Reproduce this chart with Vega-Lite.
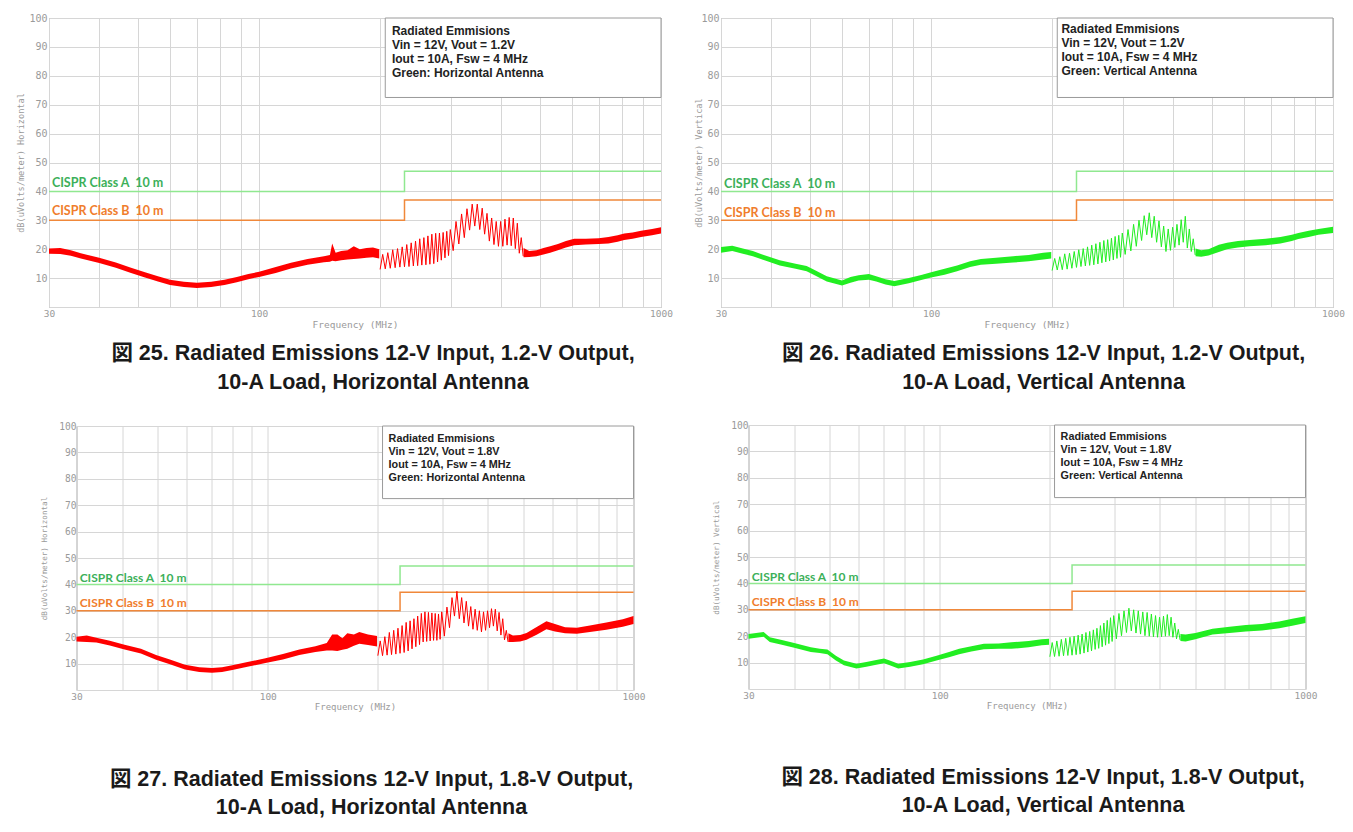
{
"$schema": "https://vega.github.io/schema/vega-lite/v6.json",
"background": "white",
"padding": {"left": 15, "top": 12, "right": 2, "bottom": 0},
"spacing": 21,
"config": {
  "view": {"stroke": "#a8a8a8", "strokeWidth": 1},
  "axis": {"grid": true, "gridColor": "#d6d6d6", "gridWidth": 1, "ticks": false, "tickSize": 0, "domain": false,
    "labelFont": "DejaVu Sans Mono", "labelFontSize": 10, "labelColor": "#9a9a9a", "labelPadding": 2,
    "titleFont": "DejaVu Sans Mono", "titleFontSize": 9, "titleFontWeight": "normal", "titleColor": "#9a9a9a",
    "labelFlush": false, "labelOverlap": false},
  "title": {"font": "Liberation Sans, Noto Sans CJK JP", "fontSize": 21.5, "fontWeight": "bold", "color": "#1a1a1a", "lineHeight": 28.5}
},
"datasets": {
  "lim": [
    {"c": "A", "f": 30, "v": 40}, {"c": "A", "f": 230, "v": 47}, {"c": "A", "f": 1000, "v": 47},
    {"c": "B", "f": 30, "v": 30}, {"c": "B", "f": 230, "v": 37}, {"c": "B", "f": 1000, "v": 37}
  ],
  "band": [
    {"p":1,"s":1,"f":30,"lo":18.4,"hi":20.2},{"p":1,"s":1,"f":32,"lo":18.3,"hi":20.4},{"p":1,"s":1,"f":34,"lo":17.7,"hi":19.6},{"p":1,"s":1,"f":36,"lo":16.8,"hi":18.6},{"p":1,"s":1,"f":40,"lo":15.2,"hi":17.0},{"p":1,"s":1,"f":44,"lo":13.6,"hi":15.4},{"p":1,"s":1,"f":48,"lo":11.8,"hi":13.6},{"p":1,"s":1,"f":52,"lo":10.2,"hi":12.0},{"p":1,"s":1,"f":56,"lo":8.8,"hi":10.6},{"p":1,"s":1,"f":60,"lo":7.6,"hi":9.4},{"p":1,"s":1,"f":65,"lo":6.9,"hi":8.7},{"p":1,"s":1,"f":70,"lo":6.6,"hi":8.4},{"p":1,"s":1,"f":76,"lo":6.9,"hi":8.7},{"p":1,"s":1,"f":82,"lo":7.6,"hi":9.4},{"p":1,"s":1,"f":88,"lo":8.6,"hi":10.4},{"p":1,"s":1,"f":94,"lo":9.6,"hi":11.4},{"p":1,"s":1,"f":100,"lo":10.4,"hi":12.2},{"p":1,"s":1,"f":110,"lo":11.8,"hi":13.8},{"p":1,"s":1,"f":120,"lo":13.3,"hi":15.3},{"p":1,"s":1,"f":132,"lo":14.6,"hi":16.6},{"p":1,"s":1,"f":145,"lo":15.5,"hi":17.6},{"p":1,"s":1,"f":150,"lo":15.7,"hi":18.0},{"p":1,"s":1,"f":152,"lo":16.0,"hi":22.0},{"p":1,"s":1,"f":155,"lo":15.8,"hi":18.8},{"p":1,"s":1,"f":160,"lo":16.2,"hi":19.4},{"p":1,"s":1,"f":166,"lo":16.4,"hi":19.6},{"p":1,"s":1,"f":172,"lo":16.6,"hi":21.0},{"p":1,"s":1,"f":178,"lo":16.8,"hi":20.0},{"p":1,"s":1,"f":185,"lo":17.0,"hi":20.4},{"p":1,"s":1,"f":192,"lo":17.2,"hi":20.6},{"p":1,"s":1,"f":199,"lo":16.8,"hi":20.0},
    {"p":1,"s":2,"f":455,"lo":17.2,"hi":20.4},{"p":1,"s":2,"f":470,"lo":17.3,"hi":19.4},{"p":1,"s":2,"f":490,"lo":17.6,"hi":19.6},{"p":1,"s":2,"f":510,"lo":18.2,"hi":20.4},{"p":1,"s":2,"f":530,"lo":18.8,"hi":21.0},{"p":1,"s":2,"f":554,"lo":19.6,"hi":21.8},{"p":1,"s":2,"f":580,"lo":20.6,"hi":22.8},{"p":1,"s":2,"f":608,"lo":21.4,"hi":23.6},{"p":1,"s":2,"f":650,"lo":21.6,"hi":23.6},{"p":1,"s":2,"f":700,"lo":21.8,"hi":23.8},{"p":1,"s":2,"f":740,"lo":22.0,"hi":24.2},{"p":1,"s":2,"f":780,"lo":22.6,"hi":24.8},{"p":1,"s":2,"f":810,"lo":23.2,"hi":25.4},{"p":1,"s":2,"f":850,"lo":23.6,"hi":25.8},{"p":1,"s":2,"f":892,"lo":24.2,"hi":26.4},{"p":1,"s":2,"f":950,"lo":24.8,"hi":27.0},{"p":1,"s":2,"f":1000,"lo":25.4,"hi":27.6},
    {"p":2,"s":1,"f":30,"lo":18.8,"hi":20.8},{"p":2,"s":1,"f":32,"lo":19.4,"hi":21.2},{"p":2,"s":1,"f":34,"lo":18.4,"hi":20.2},{"p":2,"s":1,"f":36,"lo":17.6,"hi":19.4},{"p":2,"s":1,"f":38,"lo":16.4,"hi":18.2},{"p":2,"s":1,"f":42,"lo":14.4,"hi":16.2},{"p":2,"s":1,"f":46,"lo":13.2,"hi":15.0},{"p":2,"s":1,"f":49,"lo":12.4,"hi":14.2},{"p":2,"s":1,"f":51,"lo":11.2,"hi":13.0},{"p":2,"s":1,"f":55,"lo":8.8,"hi":10.6},{"p":2,"s":1,"f":60,"lo":7.4,"hi":9.2},{"p":2,"s":1,"f":63,"lo":8.4,"hi":10.4},{"p":2,"s":1,"f":66,"lo":9.2,"hi":11.0},{"p":2,"s":1,"f":70,"lo":9.4,"hi":11.4},{"p":2,"s":1,"f":73,"lo":8.8,"hi":10.6},{"p":2,"s":1,"f":77,"lo":7.8,"hi":9.6},{"p":2,"s":1,"f":81,"lo":7.2,"hi":9.0},{"p":2,"s":1,"f":88,"lo":8.2,"hi":10.0},{"p":2,"s":1,"f":95,"lo":9.4,"hi":11.2},{"p":2,"s":1,"f":100,"lo":10.2,"hi":12.0},{"p":2,"s":1,"f":108,"lo":11.2,"hi":13.2},{"p":2,"s":1,"f":116,"lo":12.4,"hi":14.4},{"p":2,"s":1,"f":125,"lo":13.8,"hi":15.8},{"p":2,"s":1,"f":133,"lo":14.6,"hi":16.6},{"p":2,"s":1,"f":145,"lo":15.0,"hi":17.0},{"p":2,"s":1,"f":160,"lo":15.4,"hi":17.6},{"p":2,"s":1,"f":175,"lo":15.8,"hi":18.0},{"p":2,"s":1,"f":190,"lo":16.4,"hi":18.8},{"p":2,"s":1,"f":199,"lo":16.8,"hi":19.0},
    {"p":2,"s":2,"f":455,"lo":17.6,"hi":20.2},{"p":2,"s":2,"f":470,"lo":17.4,"hi":19.6},{"p":2,"s":2,"f":490,"lo":17.8,"hi":20.0},{"p":2,"s":2,"f":520,"lo":19.0,"hi":21.5},{"p":2,"s":2,"f":545,"lo":20.0,"hi":22.2},{"p":2,"s":2,"f":580,"lo":20.6,"hi":22.8},{"p":2,"s":2,"f":620,"lo":21.0,"hi":23.2},{"p":2,"s":2,"f":680,"lo":21.4,"hi":23.6},{"p":2,"s":2,"f":740,"lo":22.0,"hi":24.2},{"p":2,"s":2,"f":790,"lo":22.8,"hi":25.0},{"p":2,"s":2,"f":820,"lo":23.5,"hi":25.6},{"p":2,"s":2,"f":870,"lo":24.2,"hi":26.4},{"p":2,"s":2,"f":920,"lo":25.0,"hi":27.0},{"p":2,"s":2,"f":1000,"lo":25.6,"hi":27.8},
    {"p":3,"s":1,"f":30,"lo":18.4,"hi":20.2},{"p":3,"s":1,"f":32,"lo":18.2,"hi":20.6},{"p":3,"s":1,"f":34,"lo":18.0,"hi":19.8},{"p":3,"s":1,"f":37,"lo":16.9,"hi":18.7},{"p":3,"s":1,"f":40.6,"lo":15.3,"hi":17.1},{"p":3,"s":1,"f":45,"lo":13.8,"hi":15.6},{"p":3,"s":1,"f":49.5,"lo":11.5,"hi":13.3},{"p":3,"s":1,"f":54,"lo":9.8,"hi":11.6},{"p":3,"s":1,"f":59.4,"lo":7.8,"hi":9.6},{"p":3,"s":1,"f":65,"lo":6.8,"hi":8.6},{"p":3,"s":1,"f":70.4,"lo":6.5,"hi":8.3},{"p":3,"s":1,"f":75,"lo":6.8,"hi":8.6},{"p":3,"s":1,"f":80,"lo":7.6,"hi":9.4},{"p":3,"s":1,"f":88,"lo":8.8,"hi":10.6},{"p":3,"s":1,"f":98.6,"lo":10.2,"hi":12.0},{"p":3,"s":1,"f":110,"lo":11.6,"hi":13.6},{"p":3,"s":1,"f":122,"lo":13.3,"hi":15.3},{"p":3,"s":1,"f":135,"lo":14.4,"hi":16.6},{"p":3,"s":1,"f":145,"lo":15.0,"hi":17.8},{"p":3,"s":1,"f":150,"lo":15.0,"hi":21.0},{"p":3,"s":1,"f":155,"lo":14.8,"hi":21.0},{"p":3,"s":1,"f":160,"lo":15.2,"hi":19.6},{"p":3,"s":1,"f":165,"lo":15.6,"hi":21.5},{"p":3,"s":1,"f":172,"lo":16.8,"hi":21.0},{"p":3,"s":1,"f":178,"lo":17.5,"hi":22.0},{"p":3,"s":1,"f":188,"lo":17.0,"hi":21.0},{"p":3,"s":1,"f":199,"lo":16.5,"hi":20.5},
    {"p":3,"s":2,"f":455,"lo":18.2,"hi":21.5},{"p":3,"s":2,"f":468,"lo":18.2,"hi":20.6},{"p":3,"s":2,"f":490,"lo":18.4,"hi":20.8},{"p":3,"s":2,"f":510,"lo":19.0,"hi":21.6},{"p":3,"s":2,"f":545,"lo":21.0,"hi":24.0},{"p":3,"s":2,"f":578,"lo":23.0,"hi":26.0},{"p":3,"s":2,"f":610,"lo":22.2,"hi":25.0},{"p":3,"s":2,"f":650,"lo":21.5,"hi":23.8},{"p":3,"s":2,"f":700,"lo":21.3,"hi":23.6},{"p":3,"s":2,"f":760,"lo":22.0,"hi":24.4},{"p":3,"s":2,"f":843,"lo":22.8,"hi":25.6},{"p":3,"s":2,"f":935,"lo":24.0,"hi":26.8},{"p":3,"s":2,"f":1000,"lo":25.0,"hi":28.0},
    {"p":4,"s":1,"f":30,"lo":19.0,"hi":20.8},{"p":4,"s":1,"f":33,"lo":19.8,"hi":21.6},{"p":4,"s":1,"f":34.3,"lo":17.8,"hi":19.6},{"p":4,"s":1,"f":37,"lo":16.8,"hi":18.6},{"p":4,"s":1,"f":40,"lo":15.6,"hi":17.4},{"p":4,"s":1,"f":44.4,"lo":14.0,"hi":15.8},{"p":4,"s":1,"f":47,"lo":13.6,"hi":15.2},{"p":4,"s":1,"f":49.3,"lo":13.2,"hi":15.0},{"p":4,"s":1,"f":52,"lo":10.8,"hi":12.6},{"p":4,"s":1,"f":54.7,"lo":9.0,"hi":10.8},{"p":4,"s":1,"f":59.2,"lo":7.8,"hi":9.6},{"p":4,"s":1,"f":63,"lo":8.4,"hi":10.2},{"p":4,"s":1,"f":66,"lo":9.0,"hi":10.8},{"p":4,"s":1,"f":70.4,"lo":9.8,"hi":11.6},{"p":4,"s":1,"f":73,"lo":9.0,"hi":10.8},{"p":4,"s":1,"f":77,"lo":7.8,"hi":9.6},{"p":4,"s":1,"f":83,"lo":8.4,"hi":10.2},{"p":4,"s":1,"f":90,"lo":9.4,"hi":11.2},{"p":4,"s":1,"f":98,"lo":10.8,"hi":12.6},{"p":4,"s":1,"f":106,"lo":12.0,"hi":14.0},{"p":4,"s":1,"f":113,"lo":13.2,"hi":15.2},{"p":4,"s":1,"f":122,"lo":14.2,"hi":16.2},{"p":4,"s":1,"f":132,"lo":15.1,"hi":17.1},{"p":4,"s":1,"f":145,"lo":15.2,"hi":17.2},{"p":4,"s":1,"f":157,"lo":15.2,"hi":17.7},{"p":4,"s":1,"f":175,"lo":15.8,"hi":18.2},{"p":4,"s":1,"f":190,"lo":16.6,"hi":18.8},{"p":4,"s":1,"f":199,"lo":16.8,"hi":19.0},
    {"p":4,"s":2,"f":455,"lo":18.2,"hi":20.8},{"p":4,"s":2,"f":470,"lo":18.0,"hi":20.6},{"p":4,"s":2,"f":500,"lo":18.8,"hi":21.2},{"p":4,"s":2,"f":557,"lo":20.6,"hi":22.8},{"p":4,"s":2,"f":620,"lo":21.2,"hi":23.6},{"p":4,"s":2,"f":687,"lo":21.8,"hi":24.2},{"p":4,"s":2,"f":760,"lo":22.2,"hi":24.6},{"p":4,"s":2,"f":848,"lo":23.0,"hi":25.6},{"p":4,"s":2,"f":920,"lo":24.0,"hi":26.6},{"p":4,"s":2,"f":1000,"lo":25.0,"hi":27.6}
  ],
  "zig": [
    {"p":1,"f":200,"v":13.0},{"p":1,"f":203,"v":18.2},{"p":1,"f":206,"v":13.2},{"p":1,"f":209,"v":18.8},{"p":1,"f":212,"v":13.4},{"p":1,"f":215,"v":19.8},{"p":1,"f":218,"v":13.6},{"p":1,"f":221,"v":20.2},{"p":1,"f":224,"v":13.8},{"p":1,"f":227,"v":20.8},{"p":1,"f":230,"v":13.9},{"p":1,"f":233,"v":21.6},{"p":1,"f":236,"v":14.0},{"p":1,"f":239,"v":22.2},{"p":1,"f":242,"v":14.2},{"p":1,"f":245,"v":22.8},{"p":1,"f":248,"v":14.3},{"p":1,"f":251,"v":23.6},{"p":1,"f":254,"v":14.5},{"p":1,"f":257,"v":24.0},{"p":1,"f":260,"v":14.6},{"p":1,"f":263,"v":24.6},{"p":1,"f":266,"v":14.8},{"p":1,"f":269,"v":25.2},{"p":1,"f":272,"v":15.0},{"p":1,"f":275,"v":25.5},{"p":1,"f":278,"v":15.6},{"p":1,"f":281,"v":25.6},{"p":1,"f":284,"v":16.2},{"p":1,"f":287,"v":25.8},{"p":1,"f":290,"v":17.0},{"p":1,"f":293,"v":26.2},{"p":1,"f":296,"v":17.8},{"p":1,"f":299,"v":26.8},{"p":1,"f":304,"v":19.5},{"p":1,"f":309,"v":29.6},{"p":1,"f":314,"v":21.8},{"p":1,"f":319,"v":32.2},{"p":1,"f":324,"v":24.0},{"p":1,"f":329,"v":34.0},{"p":1,"f":334,"v":26.6},{"p":1,"f":339,"v":35.6},{"p":1,"f":344,"v":28.0},{"p":1,"f":349,"v":35.6},{"p":1,"f":354,"v":26.8},{"p":1,"f":359,"v":34.2},{"p":1,"f":364,"v":25.2},{"p":1,"f":369,"v":32.4},{"p":1,"f":374,"v":22.8},{"p":1,"f":379,"v":30.8},{"p":1,"f":384,"v":21.6},{"p":1,"f":389,"v":29.6},{"p":1,"f":394,"v":21.0},{"p":1,"f":399,"v":29.6},{"p":1,"f":404,"v":21.0},{"p":1,"f":409,"v":30.4},{"p":1,"f":414,"v":21.4},{"p":1,"f":419,"v":31.0},{"p":1,"f":424,"v":21.2},{"p":1,"f":429,"v":30.8},{"p":1,"f":434,"v":20.2},{"p":1,"f":439,"v":29.0},{"p":1,"f":444,"v":18.6},{"p":1,"f":449,"v":24.0},{"p":1,"f":454,"v":17.6},
    {"p":2,"f":200,"v":12.6},{"p":2,"f":203,"v":16.8},{"p":2,"f":206,"v":12.8},{"p":2,"f":209,"v":17.4},{"p":2,"f":212,"v":12.9},{"p":2,"f":215,"v":18.4},{"p":2,"f":218,"v":13.1},{"p":2,"f":221,"v":18.6},{"p":2,"f":224,"v":13.4},{"p":2,"f":227,"v":19.2},{"p":2,"f":230,"v":13.7},{"p":2,"f":233,"v":19.8},{"p":2,"f":236,"v":14.0},{"p":2,"f":239,"v":20.2},{"p":2,"f":242,"v":14.2},{"p":2,"f":245,"v":20.8},{"p":2,"f":248,"v":14.4},{"p":2,"f":251,"v":21.4},{"p":2,"f":254,"v":14.6},{"p":2,"f":257,"v":21.9},{"p":2,"f":260,"v":14.9},{"p":2,"f":263,"v":22.4},{"p":2,"f":266,"v":15.3},{"p":2,"f":269,"v":23.0},{"p":2,"f":272,"v":15.6},{"p":2,"f":275,"v":23.3},{"p":2,"f":278,"v":15.9},{"p":2,"f":281,"v":23.8},{"p":2,"f":284,"v":16.3},{"p":2,"f":287,"v":24.4},{"p":2,"f":290,"v":16.8},{"p":2,"f":293,"v":24.8},{"p":2,"f":296,"v":17.2},{"p":2,"f":299,"v":25.6},{"p":2,"f":304,"v":18.2},{"p":2,"f":309,"v":26.8},{"p":2,"f":314,"v":19.4},{"p":2,"f":319,"v":28.6},{"p":2,"f":324,"v":21.0},{"p":2,"f":329,"v":30.0},{"p":2,"f":334,"v":23.0},{"p":2,"f":339,"v":31.6},{"p":2,"f":344,"v":25.0},{"p":2,"f":349,"v":32.6},{"p":2,"f":354,"v":24.0},{"p":2,"f":359,"v":31.4},{"p":2,"f":364,"v":22.4},{"p":2,"f":369,"v":29.8},{"p":2,"f":374,"v":20.8},{"p":2,"f":379,"v":28.0},{"p":2,"f":384,"v":19.2},{"p":2,"f":389,"v":27.0},{"p":2,"f":394,"v":19.6},{"p":2,"f":399,"v":27.6},{"p":2,"f":404,"v":20.6},{"p":2,"f":409,"v":28.6},{"p":2,"f":414,"v":21.4},{"p":2,"f":419,"v":30.2},{"p":2,"f":424,"v":22.4},{"p":2,"f":429,"v":31.4},{"p":2,"f":434,"v":20.4},{"p":2,"f":439,"v":27.0},{"p":2,"f":444,"v":19.2},{"p":2,"f":449,"v":23.6},{"p":2,"f":454,"v":18.0},
    {"p":3,"f":200,"v":13.0},{"p":3,"f":203,"v":18.6},{"p":3,"f":206,"v":13.0},{"p":3,"f":209,"v":20.2},{"p":3,"f":212,"v":13.2},{"p":3,"f":215,"v":21.8},{"p":3,"f":218,"v":13.4},{"p":3,"f":221,"v":22.6},{"p":3,"f":224,"v":13.6},{"p":3,"f":227,"v":23.4},{"p":3,"f":230,"v":13.9},{"p":3,"f":233,"v":24.4},{"p":3,"f":236,"v":14.2},{"p":3,"f":239,"v":25.6},{"p":3,"f":242,"v":14.8},{"p":3,"f":245,"v":26.2},{"p":3,"f":248,"v":15.6},{"p":3,"f":251,"v":27.0},{"p":3,"f":254,"v":16.4},{"p":3,"f":257,"v":28.0},{"p":3,"f":260,"v":17.2},{"p":3,"f":263,"v":29.0},{"p":3,"f":266,"v":18.2},{"p":3,"f":269,"v":29.6},{"p":3,"f":272,"v":18.4},{"p":3,"f":275,"v":29.4},{"p":3,"f":278,"v":18.6},{"p":3,"f":281,"v":29.2},{"p":3,"f":284,"v":18.8},{"p":3,"f":287,"v":29.0},{"p":3,"f":290,"v":18.8},{"p":3,"f":293,"v":28.8},{"p":3,"f":296,"v":19.2},{"p":3,"f":299,"v":29.6},{"p":3,"f":304,"v":20.4},{"p":3,"f":309,"v":31.4},{"p":3,"f":314,"v":23.6},{"p":3,"f":319,"v":35.0},{"p":3,"f":324,"v":28.0},{"p":3,"f":329,"v":37.4},{"p":3,"f":334,"v":27.0},{"p":3,"f":339,"v":35.0},{"p":3,"f":344,"v":25.4},{"p":3,"f":349,"v":33.6},{"p":3,"f":354,"v":24.2},{"p":3,"f":359,"v":31.6},{"p":3,"f":364,"v":23.0},{"p":3,"f":369,"v":30.6},{"p":3,"f":374,"v":22.6},{"p":3,"f":379,"v":30.0},{"p":3,"f":384,"v":22.0},{"p":3,"f":389,"v":29.6},{"p":3,"f":394,"v":22.6},{"p":3,"f":399,"v":30.0},{"p":3,"f":404,"v":23.6},{"p":3,"f":409,"v":30.8},{"p":3,"f":414,"v":24.2},{"p":3,"f":419,"v":30.6},{"p":3,"f":424,"v":22.4},{"p":3,"f":429,"v":29.4},{"p":3,"f":434,"v":20.8},{"p":3,"f":439,"v":27.0},{"p":3,"f":444,"v":19.0},{"p":3,"f":449,"v":22.6},{"p":3,"f":454,"v":18.2},
    {"p":4,"f":200,"v":12.2},{"p":4,"f":203,"v":17.6},{"p":4,"f":206,"v":12.3},{"p":4,"f":209,"v":18.2},{"p":4,"f":212,"v":12.4},{"p":4,"f":215,"v":18.8},{"p":4,"f":218,"v":12.6},{"p":4,"f":221,"v":19.2},{"p":4,"f":224,"v":12.7},{"p":4,"f":227,"v":19.6},{"p":4,"f":230,"v":12.8},{"p":4,"f":233,"v":20.0},{"p":4,"f":236,"v":13.0},{"p":4,"f":239,"v":20.4},{"p":4,"f":242,"v":13.2},{"p":4,"f":245,"v":20.8},{"p":4,"f":248,"v":13.6},{"p":4,"f":251,"v":21.4},{"p":4,"f":254,"v":14.0},{"p":4,"f":257,"v":21.8},{"p":4,"f":260,"v":14.4},{"p":4,"f":263,"v":22.4},{"p":4,"f":266,"v":15.0},{"p":4,"f":269,"v":23.0},{"p":4,"f":272,"v":15.4},{"p":4,"f":275,"v":24.0},{"p":4,"f":278,"v":16.0},{"p":4,"f":281,"v":25.0},{"p":4,"f":284,"v":16.6},{"p":4,"f":287,"v":26.0},{"p":4,"f":290,"v":17.2},{"p":4,"f":293,"v":27.0},{"p":4,"f":296,"v":18.0},{"p":4,"f":299,"v":27.8},{"p":4,"f":304,"v":19.0},{"p":4,"f":309,"v":28.6},{"p":4,"f":314,"v":20.2},{"p":4,"f":319,"v":29.6},{"p":4,"f":324,"v":21.4},{"p":4,"f":329,"v":30.6},{"p":4,"f":334,"v":22.0},{"p":4,"f":339,"v":30.0},{"p":4,"f":344,"v":21.2},{"p":4,"f":349,"v":29.6},{"p":4,"f":354,"v":20.8},{"p":4,"f":359,"v":29.2},{"p":4,"f":364,"v":20.2},{"p":4,"f":369,"v":29.0},{"p":4,"f":374,"v":20.0},{"p":4,"f":379,"v":28.4},{"p":4,"f":384,"v":19.8},{"p":4,"f":389,"v":27.8},{"p":4,"f":394,"v":19.6},{"p":4,"f":399,"v":27.2},{"p":4,"f":404,"v":19.8},{"p":4,"f":409,"v":27.6},{"p":4,"f":414,"v":20.0},{"p":4,"f":419,"v":28.2},{"p":4,"f":424,"v":20.2},{"p":4,"f":429,"v":27.2},{"p":4,"f":434,"v":19.6},{"p":4,"f":439,"v":25.0},{"p":4,"f":444,"v":19.0},{"p":4,"f":449,"v":22.6},{"p":4,"f":454,"v":18.6}
  ]
},
"hconcat": [
 {
  "vconcat": [
  {
    "width": 612, "height": 289,
    "title": {"text": ["図 25. Radiated Emissions 12-V Input, 1.2-V Output,", "10-A Load, Horizontal Antenna"], "orient": "bottom", "anchor": "middle", "frame": "group", "dx": 18, "offset": 14},
    "layer": [
      {"data": {"values": [{}]}, "mark": {"type": "rect", "fill": "white", "stroke": "#9a9a9a", "strokeWidth": 1},
       "encoding": {
         "x": {"datum": 206, "type": "quantitative", "scale": {"type": "log", "domain": [30, 1000], "nice": false}, "axis": {"title": "Frequency (MHz)", "values": [30,40,50,60,70,80,90,100,200,300,400,500,600,700,800,900,1000], "format": "d", "labelExpr": "indexof([30,100,1000], datum.value) >= 0 ? datum.label : ''", "labelFontSize": 9.5, "titleFontSize": 9.5, "labelPadding": 1, "titlePadding": 2}},
         "x2": {"datum": 1000},
         "y": {"datum": 72.5, "type": "quantitative", "scale": {"domain": [0, 100], "nice": false}, "axis": {"title": "dB(uVolts/meter) Horizontal", "values": [0,10,20,30,40,50,60,70,80,90,100], "labelExpr": "datum.value == 0 ? '' : datum.label", "titleFontSize": 8.6, "titlePadding": 3.5}},
         "y2": {"datum": 100}}},
      {"data": {"name": "lim"}, "mark": {"type": "line", "interpolate": "step-after", "strokeWidth": 1.5},
       "encoding": {
         "x": {"field": "f", "type": "quantitative", "scale": {"type": "log", "domain": [30, 1000], "nice": false}, "axis": {"title": "Frequency (MHz)", "values": [30,40,50,60,70,80,90,100,200,300,400,500,600,700,800,900,1000], "format": "d", "labelExpr": "indexof([30,100,1000], datum.value) >= 0 ? datum.label : ''", "labelFontSize": 9.5, "titleFontSize": 9.5, "labelPadding": 1, "titlePadding": 2}},
         "y": {"field": "v", "type": "quantitative", "scale": {"domain": [0, 100], "nice": false}, "axis": {"title": "dB(uVolts/meter) Horizontal", "values": [0,10,20,30,40,50,60,70,80,90,100], "labelExpr": "datum.value == 0 ? '' : datum.label", "titleFontSize": 8.6, "titlePadding": 3.5}},
         "color": {"field": "c", "type": "nominal", "scale": {"domain": ["A", "B"], "range": ["#90e890", "#f0883a"]}, "legend": null}}},
      {"data": {"values": [{}]}, "mark": {"type": "text", "align": "left", "baseline": "middle", "font": "Lato", "fontWeight": "bold", "fontSize": 12.5, "color": "#3cb05a"},
       "encoding": {
         "x": {"datum": 30.5, "type": "quantitative", "scale": {"type": "log", "domain": [30, 1000], "nice": false}, "axis": {"title": "Frequency (MHz)", "values": [30,40,50,60,70,80,90,100,200,300,400,500,600,700,800,900,1000], "format": "d", "labelExpr": "indexof([30,100,1000], datum.value) >= 0 ? datum.label : ''", "labelFontSize": 9.5, "titleFontSize": 9.5, "labelPadding": 1, "titlePadding": 2}},
         "y": {"datum": 42.8, "type": "quantitative", "scale": {"domain": [0, 100], "nice": false}, "axis": {"title": "dB(uVolts/meter) Horizontal", "values": [0,10,20,30,40,50,60,70,80,90,100], "labelExpr": "datum.value == 0 ? '' : datum.label", "titleFontSize": 8.6, "titlePadding": 3.5}},
         "text": {"value": "CISPR Class A\u00a0 10 m"}}},
      {"data": {"values": [{}]}, "mark": {"type": "text", "align": "left", "baseline": "middle", "font": "Lato", "fontWeight": "bold", "fontSize": 12.5, "color": "#f07d2d"},
       "encoding": {
         "x": {"datum": 30.5, "type": "quantitative", "scale": {"type": "log", "domain": [30, 1000], "nice": false}, "axis": {"title": "Frequency (MHz)", "values": [30,40,50,60,70,80,90,100,200,300,400,500,600,700,800,900,1000], "format": "d", "labelExpr": "indexof([30,100,1000], datum.value) >= 0 ? datum.label : ''", "labelFontSize": 9.5, "titleFontSize": 9.5, "labelPadding": 1, "titlePadding": 2}},
         "y": {"datum": 33.1, "type": "quantitative", "scale": {"domain": [0, 100], "nice": false}, "axis": {"title": "dB(uVolts/meter) Horizontal", "values": [0,10,20,30,40,50,60,70,80,90,100], "labelExpr": "datum.value == 0 ? '' : datum.label", "titleFontSize": 8.6, "titlePadding": 3.5}},
         "text": {"value": "CISPR Class B\u00a0 10 m"}}},
      {"data": {"name": "band"}, "transform": [{"filter": "datum.p == 1"}], "mark": {"type": "area", "color": "#ff0000"},
       "encoding": {
         "x": {"field": "f", "type": "quantitative", "scale": {"type": "log", "domain": [30, 1000], "nice": false}, "axis": {"title": "Frequency (MHz)", "values": [30,40,50,60,70,80,90,100,200,300,400,500,600,700,800,900,1000], "format": "d", "labelExpr": "indexof([30,100,1000], datum.value) >= 0 ? datum.label : ''", "labelFontSize": 9.5, "titleFontSize": 9.5, "labelPadding": 1, "titlePadding": 2}},
         "y": {"field": "lo", "type": "quantitative", "scale": {"domain": [0, 100], "nice": false}, "axis": {"title": "dB(uVolts/meter) Horizontal", "values": [0,10,20,30,40,50,60,70,80,90,100], "labelExpr": "datum.value == 0 ? '' : datum.label", "titleFontSize": 8.6, "titlePadding": 3.5}},
         "y2": {"field": "hi"}, "detail": {"field": "s"}}},
      {"data": {"name": "zig"}, "transform": [{"filter": "datum.p == 1"}], "mark": {"type": "line", "color": "#ff0000", "strokeWidth": 1},
       "encoding": {
         "x": {"field": "f", "type": "quantitative", "scale": {"type": "log", "domain": [30, 1000], "nice": false}, "axis": {"title": "Frequency (MHz)", "values": [30,40,50,60,70,80,90,100,200,300,400,500,600,700,800,900,1000], "format": "d", "labelExpr": "indexof([30,100,1000], datum.value) >= 0 ? datum.label : ''", "labelFontSize": 9.5, "titleFontSize": 9.5, "labelPadding": 1, "titlePadding": 2}},
         "y": {"field": "v", "type": "quantitative", "scale": {"domain": [0, 100], "nice": false}, "axis": {"title": "dB(uVolts/meter) Horizontal", "values": [0,10,20,30,40,50,60,70,80,90,100], "labelExpr": "datum.value == 0 ? '' : datum.label", "titleFontSize": 8.6, "titlePadding": 3.5}}}},
      {"data": {"values": [{}]}, "mark": {"type": "text", "align": "left", "baseline": "top", "font": "Liberation Sans", "fontWeight": "bold", "fontSize": 12, "lineHeight": 14, "color": "#222222"},
       "encoding": {
         "x": {"datum": 214, "type": "quantitative", "scale": {"type": "log", "domain": [30, 1000], "nice": false}, "axis": {"title": "Frequency (MHz)", "values": [30,40,50,60,70,80,90,100,200,300,400,500,600,700,800,900,1000], "format": "d", "labelExpr": "indexof([30,100,1000], datum.value) >= 0 ? datum.label : ''", "labelFontSize": 9.5, "titleFontSize": 9.5, "labelPadding": 1, "titlePadding": 2}},
         "y": {"datum": 97.4, "type": "quantitative", "scale": {"domain": [0, 100], "nice": false}, "axis": {"title": "dB(uVolts/meter) Horizontal", "values": [0,10,20,30,40,50,60,70,80,90,100], "labelExpr": "datum.value == 0 ? '' : datum.label", "titleFontSize": 8.6, "titlePadding": 3.5}},
         "text": {"value": ["Radiated Emmisions", "Vin = 12V, Vout = 1.2V", "Iout = 10A, Fsw = 4 MHz", "Green: Horizontal Antenna"]}}}
    ]
  },
  {
    "width": 557, "height": 264,
    "title": {"text": ["図 27. Radiated Emissions 12-V Input, 1.8-V Output,", "10-A Load, Horizontal Antenna"], "orient": "bottom", "anchor": "middle", "frame": "group", "dx": 16.5, "offset": 57},
    "layer": [
      {"data": {"values": [{}]}, "mark": {"type": "rect", "fill": "white", "stroke": "#9a9a9a", "strokeWidth": 1},
       "encoding": {
         "x": {"datum": 206, "type": "quantitative", "scale": {"type": "log", "domain": [30, 1000], "nice": false}, "axis": {"title": "Frequency (MHz)", "values": [30,40,50,60,70,80,90,100,200,300,400,500,600,700,800,900,1000], "format": "d", "labelExpr": "indexof([30,100,1000], datum.value) >= 0 ? datum.label : ''", "labelFontSize": 9.5, "titleFontSize": 9, "labelPadding": 1, "titlePadding": 2}},
         "x2": {"datum": 1000},
         "y": {"datum": 72.5, "type": "quantitative", "scale": {"domain": [0, 100], "nice": false}, "axis": {"title": "dB(uVolts/meter) Horizontal", "values": [0,10,20,30,40,50,60,70,80,90,100], "labelExpr": "datum.value == 0 ? '' : datum.label", "labelFontSize": 9.6, "labelPadding": 0.5, "titleFontSize": 7.6, "titlePadding": 10}},
         "y2": {"datum": 100}}},
      {"data": {"name": "lim"}, "mark": {"type": "line", "interpolate": "step-after", "strokeWidth": 1.5},
       "encoding": {
         "x": {"field": "f", "type": "quantitative", "scale": {"type": "log", "domain": [30, 1000], "nice": false}, "axis": {"title": "Frequency (MHz)", "values": [30,40,50,60,70,80,90,100,200,300,400,500,600,700,800,900,1000], "format": "d", "labelExpr": "indexof([30,100,1000], datum.value) >= 0 ? datum.label : ''", "labelFontSize": 9.5, "titleFontSize": 9, "labelPadding": 1, "titlePadding": 2}},
         "y": {"field": "v", "type": "quantitative", "scale": {"domain": [0, 100], "nice": false}, "axis": {"title": "dB(uVolts/meter) Horizontal", "values": [0,10,20,30,40,50,60,70,80,90,100], "labelExpr": "datum.value == 0 ? '' : datum.label", "labelFontSize": 9.6, "labelPadding": 0.5, "titleFontSize": 7.6, "titlePadding": 10}},
         "color": {"field": "c", "type": "nominal", "scale": {"domain": ["A", "B"], "range": ["#90e890", "#f0883a"]}, "legend": null}}},
      {"data": {"values": [{}]}, "mark": {"type": "text", "align": "left", "baseline": "middle", "font": "Lato", "fontWeight": "bold", "fontSize": 12, "color": "#3cb05a"},
       "encoding": {
         "x": {"datum": 30.6, "type": "quantitative", "scale": {"type": "log", "domain": [30, 1000], "nice": false}, "axis": {"title": "Frequency (MHz)", "values": [30,40,50,60,70,80,90,100,200,300,400,500,600,700,800,900,1000], "format": "d", "labelExpr": "indexof([30,100,1000], datum.value) >= 0 ? datum.label : ''", "labelFontSize": 9.5, "titleFontSize": 9, "labelPadding": 1, "titlePadding": 2}},
         "y": {"datum": 42.4, "type": "quantitative", "scale": {"domain": [0, 100], "nice": false}, "axis": {"title": "dB(uVolts/meter) Horizontal", "values": [0,10,20,30,40,50,60,70,80,90,100], "labelExpr": "datum.value == 0 ? '' : datum.label", "labelFontSize": 9.6, "labelPadding": 0.5, "titleFontSize": 7.6, "titlePadding": 10}},
         "text": {"value": "CISPR Class A\u00a0 10 m"}}},
      {"data": {"values": [{}]}, "mark": {"type": "text", "align": "left", "baseline": "middle", "font": "Lato", "fontWeight": "bold", "fontSize": 12, "color": "#f07d2d"},
       "encoding": {
         "x": {"datum": 30.6, "type": "quantitative", "scale": {"type": "log", "domain": [30, 1000], "nice": false}, "axis": {"title": "Frequency (MHz)", "values": [30,40,50,60,70,80,90,100,200,300,400,500,600,700,800,900,1000], "format": "d", "labelExpr": "indexof([30,100,1000], datum.value) >= 0 ? datum.label : ''", "labelFontSize": 9.5, "titleFontSize": 9, "labelPadding": 1, "titlePadding": 2}},
         "y": {"datum": 33.0, "type": "quantitative", "scale": {"domain": [0, 100], "nice": false}, "axis": {"title": "dB(uVolts/meter) Horizontal", "values": [0,10,20,30,40,50,60,70,80,90,100], "labelExpr": "datum.value == 0 ? '' : datum.label", "labelFontSize": 9.6, "labelPadding": 0.5, "titleFontSize": 7.6, "titlePadding": 10}},
         "text": {"value": "CISPR Class B\u00a0 10 m"}}},
      {"data": {"name": "band"}, "transform": [{"filter": "datum.p == 3"}], "mark": {"type": "area", "color": "#ff0000"},
       "encoding": {
         "x": {"field": "f", "type": "quantitative", "scale": {"type": "log", "domain": [30, 1000], "nice": false}, "axis": {"title": "Frequency (MHz)", "values": [30,40,50,60,70,80,90,100,200,300,400,500,600,700,800,900,1000], "format": "d", "labelExpr": "indexof([30,100,1000], datum.value) >= 0 ? datum.label : ''", "labelFontSize": 9.5, "titleFontSize": 9, "labelPadding": 1, "titlePadding": 2}},
         "y": {"field": "lo", "type": "quantitative", "scale": {"domain": [0, 100], "nice": false}, "axis": {"title": "dB(uVolts/meter) Horizontal", "values": [0,10,20,30,40,50,60,70,80,90,100], "labelExpr": "datum.value == 0 ? '' : datum.label", "labelFontSize": 9.6, "labelPadding": 0.5, "titleFontSize": 7.6, "titlePadding": 10}},
         "y2": {"field": "hi"}, "detail": {"field": "s"}}},
      {"data": {"name": "zig"}, "transform": [{"filter": "datum.p == 3"}], "mark": {"type": "line", "color": "#ff0000", "strokeWidth": 1},
       "encoding": {
         "x": {"field": "f", "type": "quantitative", "scale": {"type": "log", "domain": [30, 1000], "nice": false}, "axis": {"title": "Frequency (MHz)", "values": [30,40,50,60,70,80,90,100,200,300,400,500,600,700,800,900,1000], "format": "d", "labelExpr": "indexof([30,100,1000], datum.value) >= 0 ? datum.label : ''", "labelFontSize": 9.5, "titleFontSize": 9, "labelPadding": 1, "titlePadding": 2}},
         "y": {"field": "v", "type": "quantitative", "scale": {"domain": [0, 100], "nice": false}, "axis": {"title": "dB(uVolts/meter) Horizontal", "values": [0,10,20,30,40,50,60,70,80,90,100], "labelExpr": "datum.value == 0 ? '' : datum.label", "labelFontSize": 9.6, "labelPadding": 0.5, "titleFontSize": 7.6, "titlePadding": 10}}}},
      {"data": {"values": [{}]}, "mark": {"type": "text", "align": "left", "baseline": "top", "font": "Liberation Sans", "fontWeight": "bold", "fontSize": 10.8, "lineHeight": 13, "color": "#222222"},
       "encoding": {
         "x": {"datum": 214, "type": "quantitative", "scale": {"type": "log", "domain": [30, 1000], "nice": false}, "axis": {"title": "Frequency (MHz)", "values": [30,40,50,60,70,80,90,100,200,300,400,500,600,700,800,900,1000], "format": "d", "labelExpr": "indexof([30,100,1000], datum.value) >= 0 ? datum.label : ''", "labelFontSize": 9.5, "titleFontSize": 9, "labelPadding": 1, "titlePadding": 2}},
         "y": {"datum": 97.3, "type": "quantitative", "scale": {"domain": [0, 100], "nice": false}, "axis": {"title": "dB(uVolts/meter) Horizontal", "values": [0,10,20,30,40,50,60,70,80,90,100], "labelExpr": "datum.value == 0 ? '' : datum.label", "labelFontSize": 9.6, "labelPadding": 0.5, "titleFontSize": 7.6, "titlePadding": 10}},
         "text": {"value": ["Radiated Emmisions", "Vin = 12V, Vout = 1.8V", "Iout = 10A, Fsw = 4 MHz", "Green: Horizontal Antenna"]}}}
    ]
  }
  ],
  "bounds": "flush", "center": true, "spacing": 119
 },
 {
  "vconcat": [
  {
    "width": 612, "height": 289,
    "title": {"text": ["図 26. Radiated Emissions 12-V Input, 1.2-V Output,", "10-A Load, Vertical Antenna"], "orient": "bottom", "anchor": "middle", "frame": "group", "dx": 16.5, "offset": 14},
    "layer": [
      {"data": {"values": [{}]}, "mark": {"type": "rect", "fill": "white", "stroke": "#9a9a9a", "strokeWidth": 1},
       "encoding": {
         "x": {"datum": 206, "type": "quantitative", "scale": {"type": "log", "domain": [30, 1000], "nice": false}, "axis": {"title": "Frequency (MHz)", "values": [30,40,50,60,70,80,90,100,200,300,400,500,600,700,800,900,1000], "format": "d", "labelExpr": "indexof([30,100,1000], datum.value) >= 0 ? datum.label : ''", "labelFontSize": 9.5, "titleFontSize": 9.5, "labelPadding": 1, "titlePadding": 2}},
         "x2": {"datum": 1000},
         "y": {"datum": 72.5, "type": "quantitative", "scale": {"domain": [0, 100], "nice": false}, "axis": {"title": "dB(uVolts/meter) Vertical", "values": [0,10,20,30,40,50,60,70,80,90,100], "labelExpr": "datum.value == 0 ? '' : datum.label", "titleFontSize": 8.6, "titlePadding": -3}},
         "y2": {"datum": 100}}},
      {"data": {"name": "lim"}, "mark": {"type": "line", "interpolate": "step-after", "strokeWidth": 1.5},
       "encoding": {
         "x": {"field": "f", "type": "quantitative", "scale": {"type": "log", "domain": [30, 1000], "nice": false}, "axis": {"title": "Frequency (MHz)", "values": [30,40,50,60,70,80,90,100,200,300,400,500,600,700,800,900,1000], "format": "d", "labelExpr": "indexof([30,100,1000], datum.value) >= 0 ? datum.label : ''", "labelFontSize": 9.5, "titleFontSize": 9.5, "labelPadding": 1, "titlePadding": 2}},
         "y": {"field": "v", "type": "quantitative", "scale": {"domain": [0, 100], "nice": false}, "axis": {"title": "dB(uVolts/meter) Vertical", "values": [0,10,20,30,40,50,60,70,80,90,100], "labelExpr": "datum.value == 0 ? '' : datum.label", "titleFontSize": 8.6, "titlePadding": -3}},
         "color": {"field": "c", "type": "nominal", "scale": {"domain": ["A", "B"], "range": ["#90e890", "#f0883a"]}, "legend": null}}},
      {"data": {"values": [{}]}, "mark": {"type": "text", "align": "left", "baseline": "middle", "font": "Lato", "fontWeight": "bold", "fontSize": 12.5, "color": "#3cb05a"},
       "encoding": {
         "x": {"datum": 30.5, "type": "quantitative", "scale": {"type": "log", "domain": [30, 1000], "nice": false}, "axis": {"title": "Frequency (MHz)", "values": [30,40,50,60,70,80,90,100,200,300,400,500,600,700,800,900,1000], "format": "d", "labelExpr": "indexof([30,100,1000], datum.value) >= 0 ? datum.label : ''", "labelFontSize": 9.5, "titleFontSize": 9.5, "labelPadding": 1, "titlePadding": 2}},
         "y": {"datum": 42.4, "type": "quantitative", "scale": {"domain": [0, 100], "nice": false}, "axis": {"title": "dB(uVolts/meter) Vertical", "values": [0,10,20,30,40,50,60,70,80,90,100], "labelExpr": "datum.value == 0 ? '' : datum.label", "titleFontSize": 8.6, "titlePadding": -3}},
         "text": {"value": "CISPR Class A\u00a0 10 m"}}},
      {"data": {"values": [{}]}, "mark": {"type": "text", "align": "left", "baseline": "middle", "font": "Lato", "fontWeight": "bold", "fontSize": 12.5, "color": "#f07d2d"},
       "encoding": {
         "x": {"datum": 30.5, "type": "quantitative", "scale": {"type": "log", "domain": [30, 1000], "nice": false}, "axis": {"title": "Frequency (MHz)", "values": [30,40,50,60,70,80,90,100,200,300,400,500,600,700,800,900,1000], "format": "d", "labelExpr": "indexof([30,100,1000], datum.value) >= 0 ? datum.label : ''", "labelFontSize": 9.5, "titleFontSize": 9.5, "labelPadding": 1, "titlePadding": 2}},
         "y": {"datum": 32.6, "type": "quantitative", "scale": {"domain": [0, 100], "nice": false}, "axis": {"title": "dB(uVolts/meter) Vertical", "values": [0,10,20,30,40,50,60,70,80,90,100], "labelExpr": "datum.value == 0 ? '' : datum.label", "titleFontSize": 8.6, "titlePadding": -3}},
         "text": {"value": "CISPR Class B\u00a0 10 m"}}},
      {"data": {"name": "band"}, "transform": [{"filter": "datum.p == 2"}], "mark": {"type": "area", "color": "#22ee22"},
       "encoding": {
         "x": {"field": "f", "type": "quantitative", "scale": {"type": "log", "domain": [30, 1000], "nice": false}, "axis": {"title": "Frequency (MHz)", "values": [30,40,50,60,70,80,90,100,200,300,400,500,600,700,800,900,1000], "format": "d", "labelExpr": "indexof([30,100,1000], datum.value) >= 0 ? datum.label : ''", "labelFontSize": 9.5, "titleFontSize": 9.5, "labelPadding": 1, "titlePadding": 2}},
         "y": {"field": "lo", "type": "quantitative", "scale": {"domain": [0, 100], "nice": false}, "axis": {"title": "dB(uVolts/meter) Vertical", "values": [0,10,20,30,40,50,60,70,80,90,100], "labelExpr": "datum.value == 0 ? '' : datum.label", "titleFontSize": 8.6, "titlePadding": -3}},
         "y2": {"field": "hi"}, "detail": {"field": "s"}}},
      {"data": {"name": "zig"}, "transform": [{"filter": "datum.p == 2"}], "mark": {"type": "line", "color": "#22ee22", "strokeWidth": 1},
       "encoding": {
         "x": {"field": "f", "type": "quantitative", "scale": {"type": "log", "domain": [30, 1000], "nice": false}, "axis": {"title": "Frequency (MHz)", "values": [30,40,50,60,70,80,90,100,200,300,400,500,600,700,800,900,1000], "format": "d", "labelExpr": "indexof([30,100,1000], datum.value) >= 0 ? datum.label : ''", "labelFontSize": 9.5, "titleFontSize": 9.5, "labelPadding": 1, "titlePadding": 2}},
         "y": {"field": "v", "type": "quantitative", "scale": {"domain": [0, 100], "nice": false}, "axis": {"title": "dB(uVolts/meter) Vertical", "values": [0,10,20,30,40,50,60,70,80,90,100], "labelExpr": "datum.value == 0 ? '' : datum.label", "titleFontSize": 8.6, "titlePadding": -3}}}},
      {"data": {"values": [{}]}, "mark": {"type": "text", "align": "left", "baseline": "top", "font": "Liberation Sans", "fontWeight": "bold", "fontSize": 12, "lineHeight": 14, "color": "#222222"},
       "encoding": {
         "x": {"datum": 211, "type": "quantitative", "scale": {"type": "log", "domain": [30, 1000], "nice": false}, "axis": {"title": "Frequency (MHz)", "values": [30,40,50,60,70,80,90,100,200,300,400,500,600,700,800,900,1000], "format": "d", "labelExpr": "indexof([30,100,1000], datum.value) >= 0 ? datum.label : ''", "labelFontSize": 9.5, "titleFontSize": 9.5, "labelPadding": 1, "titlePadding": 2}},
         "y": {"datum": 97.8, "type": "quantitative", "scale": {"domain": [0, 100], "nice": false}, "axis": {"title": "dB(uVolts/meter) Vertical", "values": [0,10,20,30,40,50,60,70,80,90,100], "labelExpr": "datum.value == 0 ? '' : datum.label", "titleFontSize": 8.6, "titlePadding": -3}},
         "text": {"value": ["Radiated Emmisions", "Vin = 12V, Vout = 1.2V", "Iout = 10A, Fsw = 4 MHz", "Green: Vertical Antenna"]}}}
    ]
  },
  {
    "width": 557, "height": 264,
    "title": {"text": ["図 28. Radiated Emissions 12-V Input, 1.8-V Output,", "10-A Load, Vertical Antenna"], "orient": "bottom", "anchor": "middle", "frame": "group", "dx": 16, "offset": 56},
    "layer": [
      {"data": {"values": [{}]}, "mark": {"type": "rect", "fill": "white", "stroke": "#9a9a9a", "strokeWidth": 1},
       "encoding": {
         "x": {"datum": 206, "type": "quantitative", "scale": {"type": "log", "domain": [30, 1000], "nice": false}, "axis": {"title": "Frequency (MHz)", "values": [30,40,50,60,70,80,90,100,200,300,400,500,600,700,800,900,1000], "format": "d", "labelExpr": "indexof([30,100,1000], datum.value) >= 0 ? datum.label : ''", "labelFontSize": 9.5, "titleFontSize": 9, "labelPadding": 1, "titlePadding": 2}},
         "x2": {"datum": 1000},
         "y": {"datum": 72.5, "type": "quantitative", "scale": {"domain": [0, 100], "nice": false}, "axis": {"title": "dB(uVolts/meter) Vertical", "values": [0,10,20,30,40,50,60,70,80,90,100], "labelExpr": "datum.value == 0 ? '' : datum.label", "labelFontSize": 9.6, "labelPadding": 0.5, "titleFontSize": 7.6, "titlePadding": 10}},
         "y2": {"datum": 100}}},
      {"data": {"name": "lim"}, "mark": {"type": "line", "interpolate": "step-after", "strokeWidth": 1.5},
       "encoding": {
         "x": {"field": "f", "type": "quantitative", "scale": {"type": "log", "domain": [30, 1000], "nice": false}, "axis": {"title": "Frequency (MHz)", "values": [30,40,50,60,70,80,90,100,200,300,400,500,600,700,800,900,1000], "format": "d", "labelExpr": "indexof([30,100,1000], datum.value) >= 0 ? datum.label : ''", "labelFontSize": 9.5, "titleFontSize": 9, "labelPadding": 1, "titlePadding": 2}},
         "y": {"field": "v", "type": "quantitative", "scale": {"domain": [0, 100], "nice": false}, "axis": {"title": "dB(uVolts/meter) Vertical", "values": [0,10,20,30,40,50,60,70,80,90,100], "labelExpr": "datum.value == 0 ? '' : datum.label", "labelFontSize": 9.6, "labelPadding": 0.5, "titleFontSize": 7.6, "titlePadding": 10}},
         "color": {"field": "c", "type": "nominal", "scale": {"domain": ["A", "B"], "range": ["#90e890", "#f0883a"]}, "legend": null}}},
      {"data": {"values": [{}]}, "mark": {"type": "text", "align": "left", "baseline": "middle", "font": "Lato", "fontWeight": "bold", "fontSize": 12, "color": "#3cb05a"},
       "encoding": {
         "x": {"datum": 30.6, "type": "quantitative", "scale": {"type": "log", "domain": [30, 1000], "nice": false}, "axis": {"title": "Frequency (MHz)", "values": [30,40,50,60,70,80,90,100,200,300,400,500,600,700,800,900,1000], "format": "d", "labelExpr": "indexof([30,100,1000], datum.value) >= 0 ? datum.label : ''", "labelFontSize": 9.5, "titleFontSize": 9, "labelPadding": 1, "titlePadding": 2}},
         "y": {"datum": 42.5, "type": "quantitative", "scale": {"domain": [0, 100], "nice": false}, "axis": {"title": "dB(uVolts/meter) Vertical", "values": [0,10,20,30,40,50,60,70,80,90,100], "labelExpr": "datum.value == 0 ? '' : datum.label", "labelFontSize": 9.6, "labelPadding": 0.5, "titleFontSize": 7.6, "titlePadding": 10}},
         "text": {"value": "CISPR Class A\u00a0 10 m"}}},
      {"data": {"values": [{}]}, "mark": {"type": "text", "align": "left", "baseline": "middle", "font": "Lato", "fontWeight": "bold", "fontSize": 12, "color": "#f07d2d"},
       "encoding": {
         "x": {"datum": 30.6, "type": "quantitative", "scale": {"type": "log", "domain": [30, 1000], "nice": false}, "axis": {"title": "Frequency (MHz)", "values": [30,40,50,60,70,80,90,100,200,300,400,500,600,700,800,900,1000], "format": "d", "labelExpr": "indexof([30,100,1000], datum.value) >= 0 ? datum.label : ''", "labelFontSize": 9.5, "titleFontSize": 9, "labelPadding": 1, "titlePadding": 2}},
         "y": {"datum": 32.8, "type": "quantitative", "scale": {"domain": [0, 100], "nice": false}, "axis": {"title": "dB(uVolts/meter) Vertical", "values": [0,10,20,30,40,50,60,70,80,90,100], "labelExpr": "datum.value == 0 ? '' : datum.label", "labelFontSize": 9.6, "labelPadding": 0.5, "titleFontSize": 7.6, "titlePadding": 10}},
         "text": {"value": "CISPR Class B\u00a0 10 m"}}},
      {"data": {"name": "band"}, "transform": [{"filter": "datum.p == 4"}], "mark": {"type": "area", "color": "#22ee22"},
       "encoding": {
         "x": {"field": "f", "type": "quantitative", "scale": {"type": "log", "domain": [30, 1000], "nice": false}, "axis": {"title": "Frequency (MHz)", "values": [30,40,50,60,70,80,90,100,200,300,400,500,600,700,800,900,1000], "format": "d", "labelExpr": "indexof([30,100,1000], datum.value) >= 0 ? datum.label : ''", "labelFontSize": 9.5, "titleFontSize": 9, "labelPadding": 1, "titlePadding": 2}},
         "y": {"field": "lo", "type": "quantitative", "scale": {"domain": [0, 100], "nice": false}, "axis": {"title": "dB(uVolts/meter) Vertical", "values": [0,10,20,30,40,50,60,70,80,90,100], "labelExpr": "datum.value == 0 ? '' : datum.label", "labelFontSize": 9.6, "labelPadding": 0.5, "titleFontSize": 7.6, "titlePadding": 10}},
         "y2": {"field": "hi"}, "detail": {"field": "s"}}},
      {"data": {"name": "zig"}, "transform": [{"filter": "datum.p == 4"}], "mark": {"type": "line", "color": "#22ee22", "strokeWidth": 1},
       "encoding": {
         "x": {"field": "f", "type": "quantitative", "scale": {"type": "log", "domain": [30, 1000], "nice": false}, "axis": {"title": "Frequency (MHz)", "values": [30,40,50,60,70,80,90,100,200,300,400,500,600,700,800,900,1000], "format": "d", "labelExpr": "indexof([30,100,1000], datum.value) >= 0 ? datum.label : ''", "labelFontSize": 9.5, "titleFontSize": 9, "labelPadding": 1, "titlePadding": 2}},
         "y": {"field": "v", "type": "quantitative", "scale": {"domain": [0, 100], "nice": false}, "axis": {"title": "dB(uVolts/meter) Vertical", "values": [0,10,20,30,40,50,60,70,80,90,100], "labelExpr": "datum.value == 0 ? '' : datum.label", "labelFontSize": 9.6, "labelPadding": 0.5, "titleFontSize": 7.6, "titlePadding": 10}}}},
      {"data": {"values": [{}]}, "mark": {"type": "text", "align": "left", "baseline": "top", "font": "Liberation Sans", "fontWeight": "bold", "fontSize": 10.8, "lineHeight": 13, "color": "#222222"},
       "encoding": {
         "x": {"datum": 214, "type": "quantitative", "scale": {"type": "log", "domain": [30, 1000], "nice": false}, "axis": {"title": "Frequency (MHz)", "values": [30,40,50,60,70,80,90,100,200,300,400,500,600,700,800,900,1000], "format": "d", "labelExpr": "indexof([30,100,1000], datum.value) >= 0 ? datum.label : ''", "labelFontSize": 9.5, "titleFontSize": 9, "labelPadding": 1, "titlePadding": 2}},
         "y": {"datum": 97.6, "type": "quantitative", "scale": {"domain": [0, 100], "nice": false}, "axis": {"title": "dB(uVolts/meter) Vertical", "values": [0,10,20,30,40,50,60,70,80,90,100], "labelExpr": "datum.value == 0 ? '' : datum.label", "labelFontSize": 9.6, "labelPadding": 0.5, "titleFontSize": 7.6, "titlePadding": 10}},
         "text": {"value": ["Radiated Emmisions", "Vin = 12V, Vout = 1.8V", "Iout = 10A, Fsw = 4 MHz", "Green: Vertical Antenna"]}}}
    ]
  }
  ],
  "bounds": "flush", "center": true, "spacing": 118
 }
]
}
